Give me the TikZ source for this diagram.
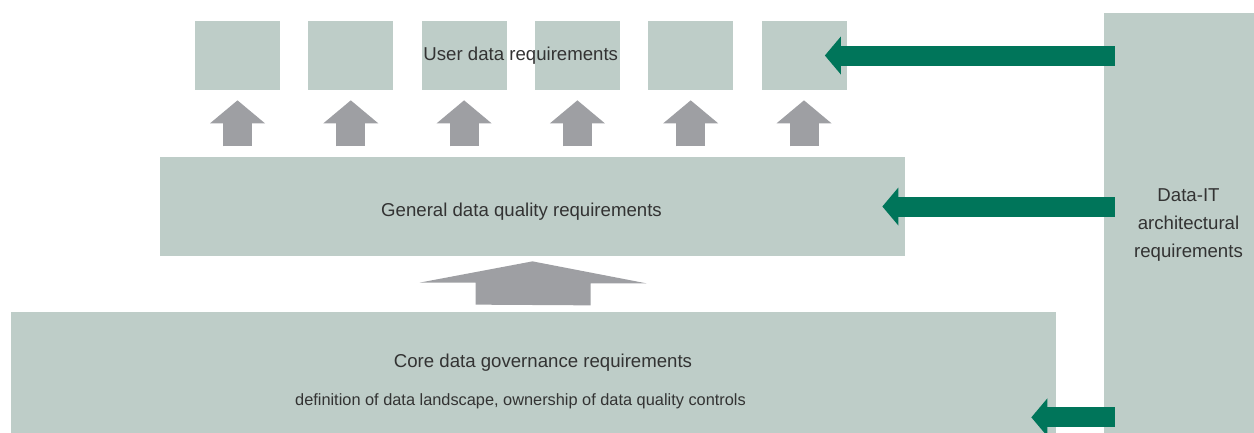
\documentclass[tikz,border=0pt]{standalone}
\usepackage{fontspec}
\setmainfont{Liberation Sans}
\usepackage{xcolor}
\usepackage{tikz}
\usetikzlibrary{positioning,calc,arrows.meta}
\definecolor{boxgrey}{HTML}{BECDC8}
\definecolor{arrowgrey}{HTML}{9E9FA3}
\definecolor{itgreen}{HTML}{00755A}
\tikzstyle{req} = [rectangle, fill=boxgrey, inner sep=0pt]
\tikzstyle{userbox} = [req, minimum width=1.7cm, minimum height=1.38cm]
\tikzstyle{reqtext} = [text=black!80, font=\fontsize{10.6}{15.9}\selectfont, inner sep=0pt, align=center]
\tikzstyle{subtext} = [text=black!80, font=\fontsize{9.3}{12}\selectfont, inner sep=0pt]
\tikzstyle{uparrow} = [arrowgrey, line width=0.58cm, -{Triangle[length=0.46cm,width=1.1cm,line width=0pt]}]
\tikzstyle{itarrow} = [itgreen, line width=0.4cm, -{Triangle[length=0.32cm,width=0.76cm,line width=0pt]}]

\begin{document}
\begin{tikzpicture}[node distance=0.552cm]
    \useasboundingbox (0,0) rectangle (25.08,-8.66);
    \node (dit) [req, minimum width=3cm, minimum height=8.4cm] at (23.58,-4.46) {};
    \node (gen) [req, minimum width=14.9cm, minimum height=1.98cm] at (10.65,-4.13) {};
    \node (core) [req, minimum width=20.9cm, minimum height=2.42cm] at (10.67,-7.45) {};
    \node (u1) [userbox] at (4.75,-1.11) {};
    \foreach \i [count=\j from 2] in {1,...,5}
        \node (u\j) [userbox, right=of u\i] {};

    \node (usertext) [reqtext] at ($(u3)!0.5!(u4)$) {User data requirements};
    \node (gentext) [reqtext] at ([xshift=-0.22cm,yshift=-0.11cm]gen.center) {General data quality requirements};
    \node (coretext) [reqtext] at ([xshift=0.19cm,yshift=0.19cm]core.center) {Core data governance requirements};
    \node (coresub) [subtext] at ([xshift=-0.26cm,yshift=-0.57cm]core.center) {definition of data landscape, ownership of data quality controls};
    \node (dittext) [reqtext] at ([xshift=0.19cm,yshift=-0.04cm]dit.center) {Data-IT\\architectural\\requirements};

    \foreach \i in {1,...,6}
        \draw [uparrow] ([yshift=-1.12cm]u\i.south) -- ([yshift=-0.2cm]u\i.south);
    \fill [arrowgrey] ([yshift=0.14cm]core.north) ++(-1.16,0) -- ++(0,0.44) -- ++(-1.12,0)
        -- ([yshift=-0.1cm]gen.south) -- ++(2.28,-0.44) -- ++(-1.12,0) -- ++(0,-0.44) -- cycle;

    \coordinate (tip3) at ([shift={(-0.5cm,0.32cm)}]core.south east);
    \draw [itarrow] ($(dit.west |- u6)+(0.22,0)$) -- ([xshift=-0.44cm]u6.east);
    \draw [itarrow] ($(dit.west |- gen)+(0.22,0)$) -- ([xshift=-0.46cm]gen.east);
    \draw [itarrow] ($(dit.west |- tip3)+(0.22,0)$) -- (tip3);
\end{tikzpicture}
\end{document}
